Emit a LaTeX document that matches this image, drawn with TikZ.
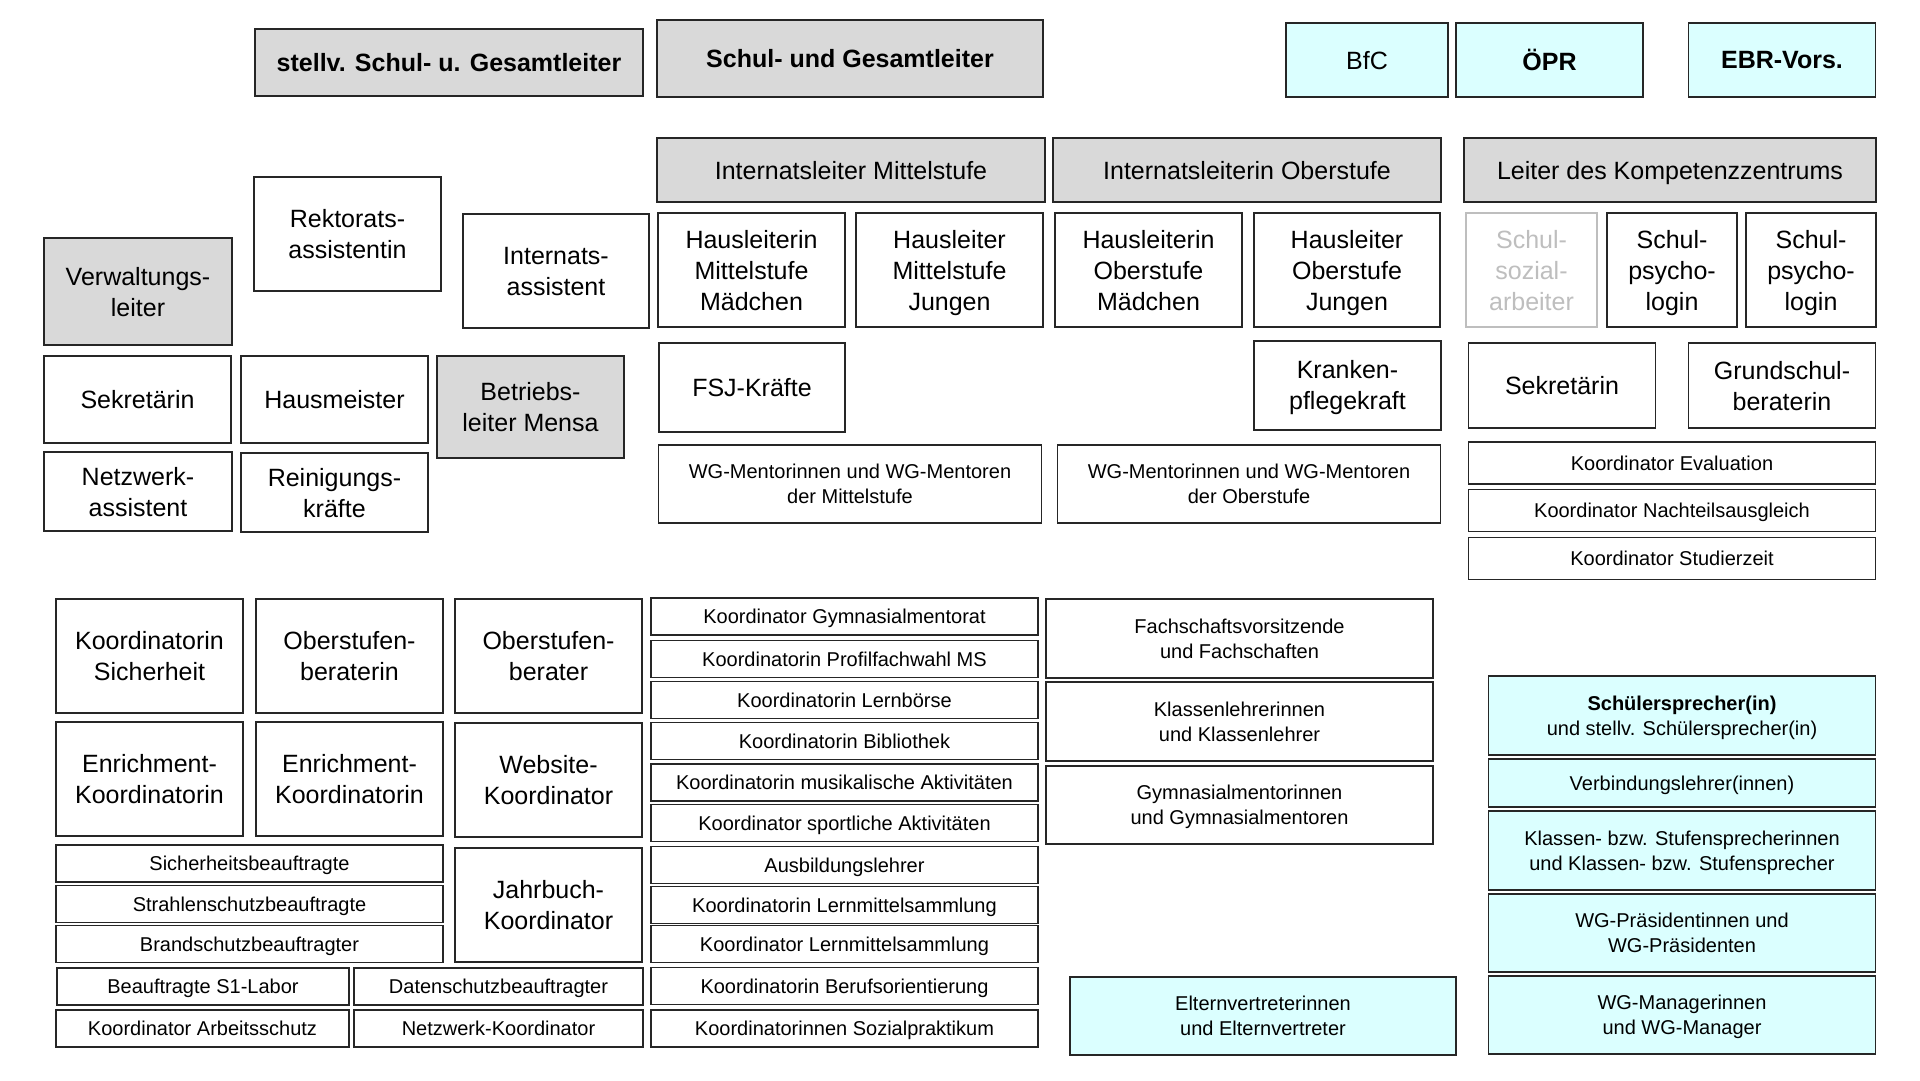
\documentclass[tikz,border=0pt]{standalone}
\usepackage{fontspec}
\setmainfont{Liberation Sans}
\usepackage{tikz}
\definecolor{rahmen}{HTML}{262626}
\definecolor{hellGrau}{HTML}{D9D9D9}
\definecolor{hellTuerkis}{HTML}{DBFFFF}
\definecolor{blassGrau}{HTML}{BEBEBE}
\tikzset{
  kasten/.style={draw=rahmen,line width=1.6pt,align=center,inner sep=0pt,font=\fontsize{25}{31}\selectfont,text depth=-4pt},
  grau/.style={kasten,fill=hellGrau},
  tuerkis/.style={kasten,fill=hellTuerkis},
  klein/.style={font=\fontsize{20}{25}\selectfont,text depth=-4.8pt},
  fett/.style={font=\fontsize{25}{31}\selectfont\bfseries},
  gr/.style 2 args={minimum width=#1,minimum height=#2}
}

\begin{document}
\begin{tikzpicture}[x=1pt,y=-1pt]
\useasboundingbox[fill=white] (0,0) rectangle (1920,1080);
% Leitung und Vertretungen
\node[grau,fett,gr={388}{67}] (stellvLeiter) at (449,62.5) {stellv. Schul- u. Gesamtleiter};
\node[grau,fett,gr={386}{77},text depth=-9pt] (schulLeiter) at (850,58.5) {Schul- und Gesamtleiter};
\node[tuerkis,gr={162}{74}] (bfc) at (1367,60) {BfC};
\node[tuerkis,fett,gr={187}{74}] (oepr) at (1549.5,60) {ÖPR};
\node[tuerkis,fett,gr={187}{74}] (ebr) at (1782,60) {EBR-Vors.};
\node[grau,gr={388}{64}] (ilMittel) at (851,170) {Internatsleiter Mittelstufe};
\node[grau,gr={388}{64}] (ilOber) at (1247,170) {Internatsleiterin Oberstufe};
\node[grau,gr={412}{64}] (kompLeiter) at (1670,170) {Leiter des Kompetenzzentrums};
% Verwaltung
\node[grau,gr={188}{107},text depth=-13pt] (verwLeiter) at (138,291.5) {Verwaltungs-\\leiter};
\node[kasten,gr={187}{114},text depth=-7pt] (rektAss) at (347.5,234) {Rektorats-\\assistentin};
\node[kasten,gr={186}{114},text depth=-7pt] (intAss) at (556,271) {Internats-\\assistent};
\node[kasten,gr={187}{87}] (sekrLinks) at (137.5,399.5) {Sekretärin};
\node[kasten,gr={187}{87}] (hausmeister) at (334.5,399.5) {Hausmeister};
\node[grau,gr={187}{102}] (mensa) at (530.5,407) {Betriebs-\\leiter Mensa};
\node[kasten,gr={188}{79}] (netzAss) at (138,491.5) {Netzwerk-\\assistent};
\node[kasten,gr={187}{79}] (reinigung) at (334.5,492.5) {Reinigungs-\\kräfte};
% Internat
\node[kasten,gr={187}{114}] (hlMsM) at (751.5,270) {Hausleiterin\\Mittelstufe\\Mädchen};
\node[kasten,gr={187}{114}] (hlMsJ) at (949.5,270) {Hausleiter\\Mittelstufe\\Jungen};
\node[kasten,gr={187}{114}] (hlOsM) at (1148.5,270) {Hausleiterin\\Oberstufe\\Mädchen};
\node[kasten,gr={186}{114}] (hlOsJ) at (1347,270) {Hausleiter\\Oberstufe\\Jungen};
\node[kasten,gr={186}{89}] (fsj) at (752,387.5) {FSJ-Kräfte};
\node[kasten,gr={187}{89},text depth=2pt] (pflege) at (1347.5,385.5) {Kranken-\\pflegekraft};
\node[kasten,klein,gr={383}{78},text depth=-12pt] (wgMentMs) at (850,484) {WG-Mentorinnen und WG-Mentoren\\der Mittelstufe};
\node[kasten,klein,gr={383}{78},text depth=-12pt] (wgMentOs) at (1249,484) {WG-Mentorinnen und WG-Mentoren\\der Oberstufe};
% Kompetenzzentrum
\node[kasten,draw=blassGrau,text=blassGrau,gr={131}{114}] (sozArb) at (1531.5,270) {Schul-\\sozial-\\arbeiter};
\node[kasten,gr={130}{114}] (psych1) at (1672,270) {Schul-\\psycho-\\login};
\node[kasten,gr={130}{114}] (psych2) at (1811,270) {Schul-\\psycho-\\login};
\node[kasten,gr={187}{85}] (sekrRechts) at (1562,385.5) {Sekretärin};
\node[kasten,gr={187}{85}] (gsBeraterin) at (1782,385.5) {Grundschul-\\beraterin};
\node[kasten,klein,gr={407}{42}] (koEval) at (1672,463) {Koordinator Evaluation};
\node[kasten,klein,gr={407}{42}] (koNachteil) at (1672,510.5) {Koordinator Nachteilsausgleich};
\node[kasten,klein,gr={407}{42}] (koStudier) at (1672,558.5) {Koordinator Studierzeit};
% Koordination links unten
\node[kasten,gr={187}{114}] (koSicher) at (149.5,656) {Koordinatorin\\Sicherheit};
\node[kasten,gr={187}{114}] (osBeraterin) at (349.5,656) {Oberstufen-\\beraterin};
\node[kasten,gr={187}{114}] (osBerater) at (548.5,656) {Oberstufen-\\berater};
\node[kasten,gr={187}{114}] (enrich1) at (149.5,779) {Enrichment-\\Koordinatorin};
\node[kasten,gr={187}{114}] (enrich2) at (349.5,779) {Enrichment-\\Koordinatorin};
\node[kasten,gr={187}{114}] (website) at (548.5,780) {Website-\\Koordinator};
\node[kasten,klein,gr={387}{37}] (sichBeauf) at (249.5,863.5) {Sicherheitsbeauftragte};
\node[kasten,klein,gr={387}{37}] (strahlen) at (249.5,904) {Strahlenschutzbeauftragte};
\node[kasten,klein,gr={387}{37}] (brand) at (249.5,944) {Brandschutzbeauftragter};
\node[kasten,gr={187}{114}] (jahrbuch) at (548.5,905) {Jahrbuch-\\Koordinator};
\node[kasten,klein,gr={292}{37}] (s1Labor) at (203,986.5) {Beauftragte S1-Labor};
\node[kasten,klein,gr={289}{37}] (datenschutz) at (498.5,986.5) {Datenschutzbeauftragter};
\node[kasten,klein,gr={293}{37}] (arbeitsschutz) at (202.5,1028.5) {Koordinator Arbeitsschutz};
\node[kasten,klein,gr={289}{37}] (netzKoord) at (498.5,1028.5) {Netzwerk-Koordinator};
% Koordination Mitte
\node[kasten,klein,gr={387}{37}] (koGym) at (844.5,616.5) {Koordinator Gymnasialmentorat};
\node[kasten,klein,gr={387}{37}] (koProfil) at (844.5,659) {Koordinatorin Profilfachwahl MS};
\node[kasten,klein,gr={387}{37}] (koLernb) at (844.5,700) {Koordinatorin Lernbörse};
\node[kasten,klein,gr={387}{37}] (koBib) at (844.5,741) {Koordinatorin Bibliothek};
\node[kasten,klein,gr={387}{37}] (koMusik) at (844.5,782.5) {Koordinatorin musikalische Aktivitäten};
\node[kasten,klein,gr={387}{37}] (koSport) at (844.5,823) {Koordinator sportliche Aktivitäten};
\node[kasten,klein,gr={387}{37}] (ausbildung) at (844.5,865) {Ausbildungslehrer};
\node[kasten,klein,gr={387}{37}] (koLmsIn) at (844.5,905) {Koordinatorin Lernmittelsammlung};
\node[kasten,klein,gr={387}{37}] (koLms) at (844.5,944) {Koordinator Lernmittelsammlung};
\node[kasten,klein,gr={387}{37}] (koBeruf) at (844.5,986) {Koordinatorin Berufsorientierung};
\node[kasten,klein,gr={387}{37}] (koSozial) at (844.5,1028.5) {Koordinatorinnen Sozialpraktikum};
% Lehrkräfte und Gremien
\node[kasten,klein,gr={387}{79},text depth=-12pt] (fachschaft) at (1239.5,638.5) {Fachschaftsvorsitzende\\und Fachschaften};
\node[kasten,klein,gr={387}{79}] (klassenlehrer) at (1239.5,721.5) {Klassenlehrerinnen\\und Klassenlehrer};
\node[kasten,klein,gr={387}{78}] (gymMentor) at (1239.5,805) {Gymnasialmentorinnen\\und Gymnasialmentoren};
\node[tuerkis,klein,gr={386}{78}] (eltern) at (1263,1016) {Elternvertreterinnen\\und Elternvertreter};
\node[tuerkis,klein,gr={387}{79}] (schuelerspr) at (1682,715.5) {\textbf{Schülersprecher(in)}\\und stellv. Schülersprecher(in)};
\node[tuerkis,klein,gr={387}{48}] (verbindung) at (1682,783) {Verbindungslehrer(innen)};
\node[tuerkis,klein,gr={387}{79}] (klassenspr) at (1682,850.5) {Klassen- bzw. Stufensprecherinnen\\und Klassen- bzw. Stufensprecher};
\node[tuerkis,klein,gr={387}{78}] (wgPraes) at (1682,933) {WG-Präsidentinnen und\\WG-Präsidenten};
\node[tuerkis,klein,gr={387}{78}] (wgManager) at (1682,1015) {WG-Managerinnen\\und WG-Manager};
\end{tikzpicture}
\end{document}
